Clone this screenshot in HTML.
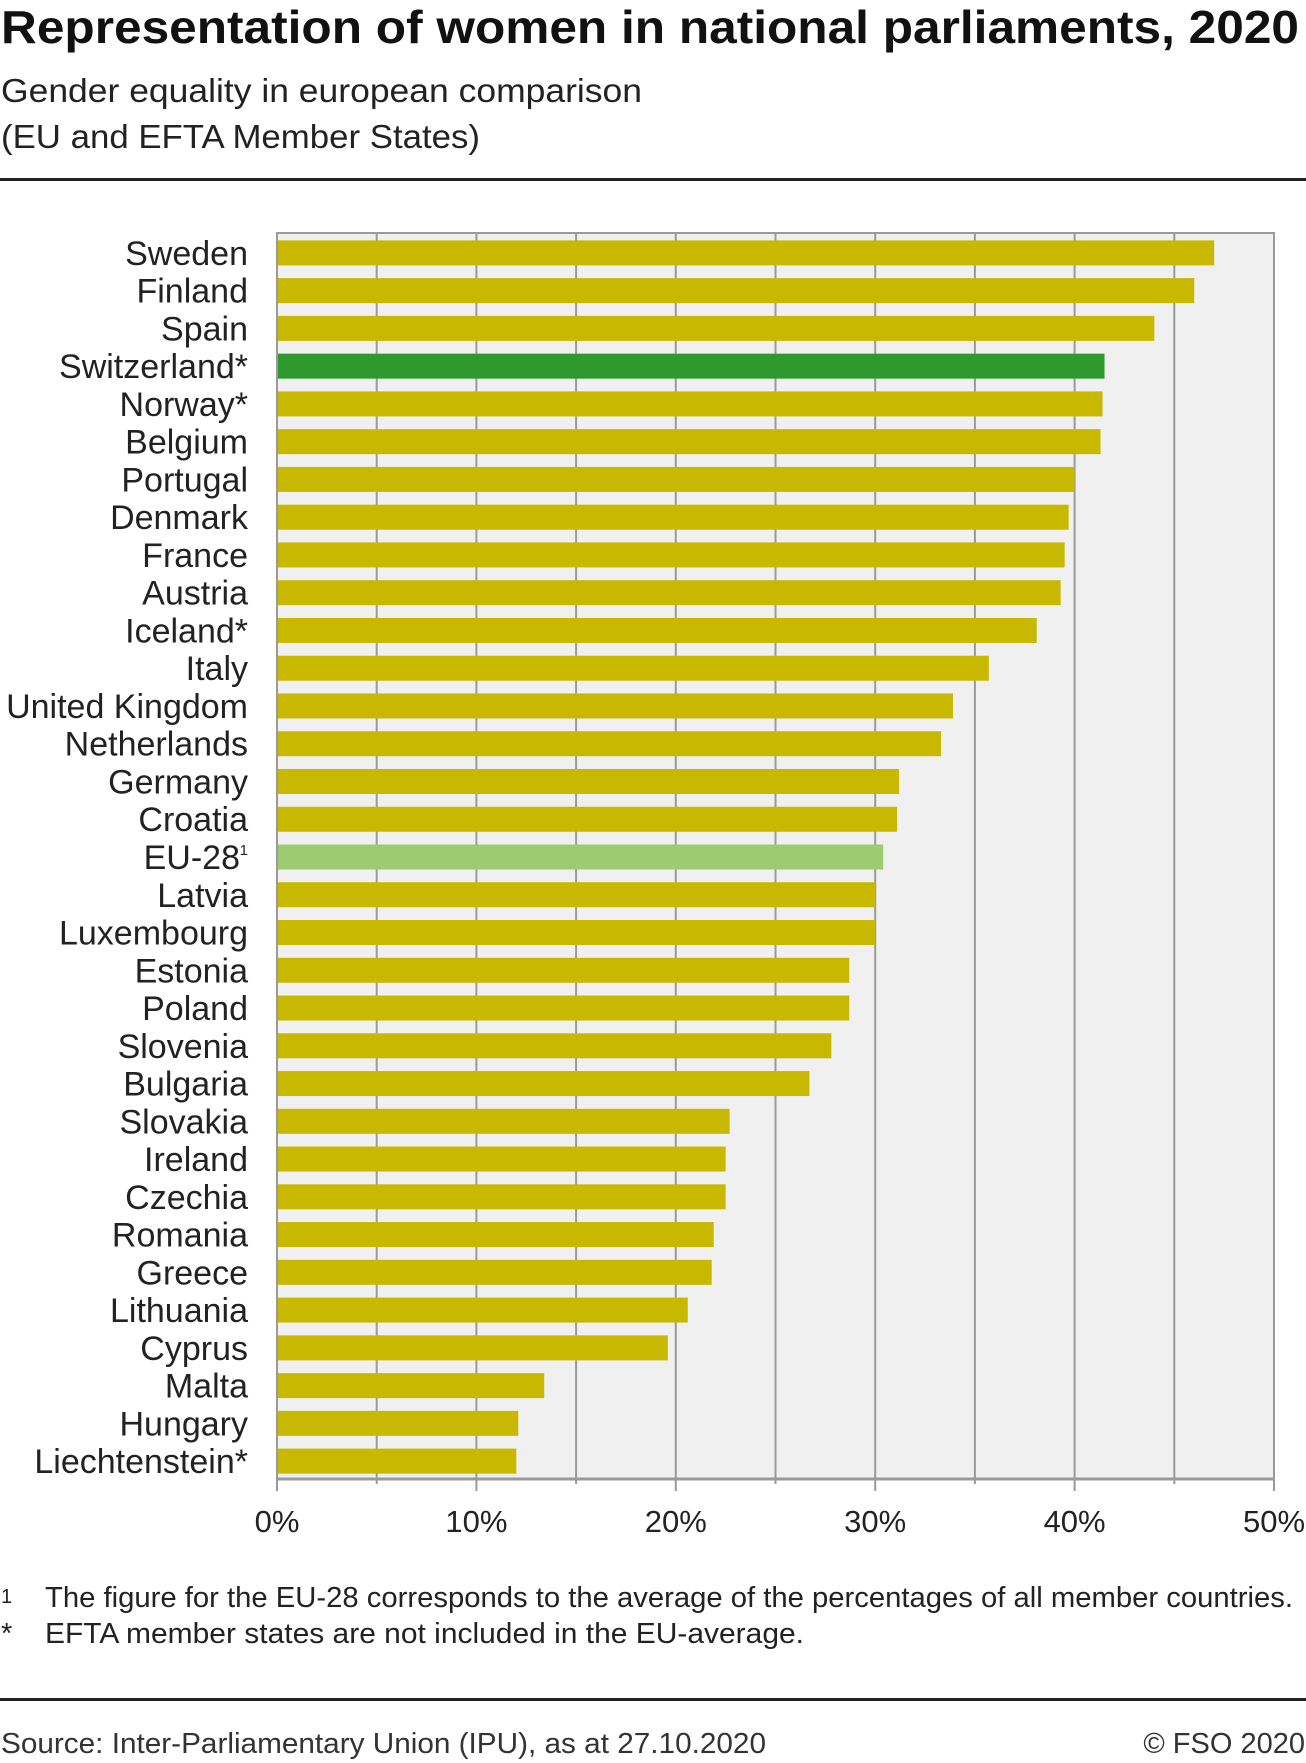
<!DOCTYPE html>
<html><head><meta charset="utf-8"><style>
html,body{margin:0;padding:0;background:#fff;}
svg{display:block;font-family:"Liberation Sans",sans-serif;}
</style></head><body>
<svg id="chart" width="1306" height="1763" viewBox="0 0 1306 1763">
<text x="1" y="43" font-size="46" font-weight="bold" fill="#111" textLength="1298" lengthAdjust="spacingAndGlyphs">Representation of women in national parliaments, 2020</text>
<text x="1" y="102" font-size="33" fill="#222" textLength="641" lengthAdjust="spacingAndGlyphs">Gender equality in european comparison</text>
<text x="1" y="148" font-size="33" fill="#222" textLength="479" lengthAdjust="spacingAndGlyphs">(EU and EFTA Member States)</text>
<rect x="0" y="178" width="1306" height="3" fill="#222"/>
<g id="plot"></g>
<text x="1" y="1603" font-size="20" fill="#222">1</text>
<text x="45" y="1607" font-size="29" fill="#222" textLength="1248" lengthAdjust="spacingAndGlyphs">The figure for the EU-28 corresponds to the average of the percentages of all member countries.</text>
<text x="1" y="1643" font-size="29" fill="#222">*</text>
<text x="45" y="1643" font-size="29" fill="#222" textLength="759" lengthAdjust="spacingAndGlyphs">EFTA member states are not included in the EU-average.</text>
<rect x="0" y="1698" width="1306" height="3" fill="#222"/>
<text x="1" y="1753" font-size="29" fill="#333" textLength="765" lengthAdjust="spacingAndGlyphs">Source: Inter-Parliamentary Union (IPU), as at 27.10.2020</text>
<text x="1305" y="1753" font-size="29" fill="#333" text-anchor="end">© FSO 2020</text>
</svg>
<script>
const categories = ["Sweden","Finland","Spain","Switzerland*","Norway*","Belgium","Portugal","Denmark","France","Austria","Iceland*","Italy","United Kingdom","Netherlands","Germany","Croatia","EU-28","Latvia","Luxembourg","Estonia","Poland","Slovenia","Bulgaria","Slovakia","Ireland","Czechia","Romania","Greece","Lithuania","Cyprus","Malta","Hungary","Liechtenstein*"];
const values = [47.0,46.0,44.0,41.5,41.4,41.3,40.0,39.7,39.5,39.3,38.1,35.7,33.9,33.3,31.2,31.1,30.4,30.0,30.0,28.7,28.7,27.8,26.7,22.7,22.5,22.5,21.9,21.8,20.6,19.6,13.4,12.1,12.0];
const tickValues = [0,10,20,30,40,50];
const tickLabels = ["0%","10%","20%","30%","40%","50%"];

const NS = "http://www.w3.org/2000/svg";
const plot = document.getElementById("plot");
const L = 277, R = 1274, T = 233, B = 1479;
const xMax = 50;
const x = v => L + (v / xMax) * (R - L);
const step = (B - T) / categories.length;
const yc = i => T + step * (i + 0.5) + 1;
function mk(tag, attrs) { const e = document.createElementNS(NS, tag); for (const k in attrs) e.setAttribute(k, attrs[k]); plot.appendChild(e); return e; }

const bg = mk("rect", {x: L, y: T, width: R - L, height: B - T, fill: "#f0f0f0"});


for (let v = 5; v < xMax; v += 5) {
  const g = mk("line", {x1: x(v), x2: x(v), y1: T, y2: B + (v % 10 === 0 ? 12 : 5), stroke: "#9a9a9a", "stroke-width": 2});
  
  
}
const frame = mk("path", {d: `M${L},${B+12} L${L},${T} L${R},${T} L${R},${B+12}`, fill: "none", stroke: "#9a9a9a", "stroke-width": 2});


const axis = mk("line", {x1: L, x2: R, y1: B, y2: B, stroke: "#9a9a9a", "stroke-width": 3});



categories.forEach((c, i) => {
  let color = "#c9b800";
  if (c === "Switzerland*") color = "#2e9a2e";
  if (c === "EU-28") color = "#9ccb72";
  const bh = 25;
  const b = mk("rect", {x: L + 1, y: yc(i) - bh / 2, width: x(values[i]) - L - 1, height: bh, fill: color});
  
  
  const t = mk("text", {x: 248, y: yc(i) + 12, "font-size": 34, fill: "#222", "text-anchor": "end"});
  t.textContent = c;
  if (c === "EU-28") { t.setAttribute("x", 240); const s = mk("text", {x: 248, y: yc(i) - 2, "font-size": 15, fill: "#222", "text-anchor": "end"}); s.textContent = "1";   }
  
  
});

tickValues.forEach((v, i) => {
  const t = mk("text", {x: x(v), y: 1532, "font-size": 31, fill: "#222", "text-anchor": "middle"});
  t.textContent = tickLabels[i];
  
  
});
</script>
</body></html>
